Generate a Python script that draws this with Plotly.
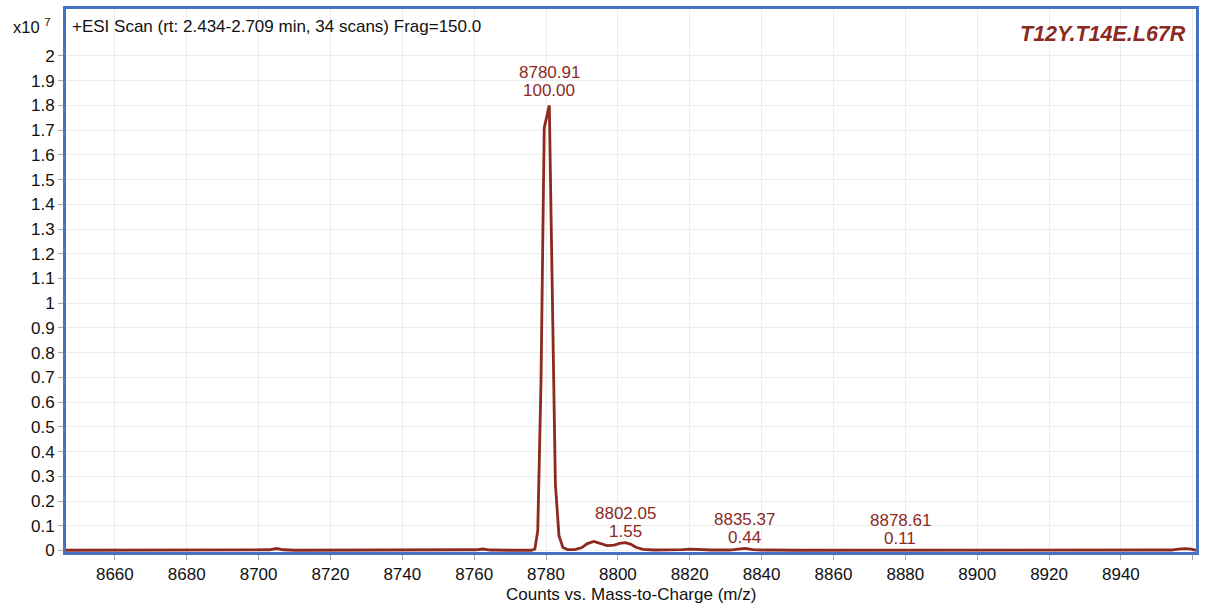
import plotly.graph_objects as go

# ---- data (intensity in units of 1e7 counts) ----
mz = [8646.4, 8660, 8680, 8686, 8689, 8692, 8700, 8703, 8705, 8707, 8710,
      8719, 8722.5, 8726, 8740, 8758, 8760.5, 8762.4, 8764.5, 8770, 8775.9,
      8776.9, 8777.7, 8778.6, 8779.5, 8780.91, 8782.6, 8783.6, 8784.7, 8786,
      8788, 8790, 8791.5, 8793.3, 8795, 8797, 8799, 8800.5, 8802.05, 8803.5,
      8805, 8807, 8810, 8815, 8818, 8820, 8822, 8826, 8831, 8833.5, 8835.37,
      8837.5, 8840, 8850, 8875, 8878.61, 8882, 8892, 8895, 8898, 8920, 8950,
      8954, 8956, 8958, 8959.5, 8960.9]
counts = [0.001, 0.001, 0.001, 0.001, 0.003, 0.001, 0.001, 0.003, 0.008, 0.003, 0.001,
          0.001, 0.003, 0.001, 0.001, 0.001, 0.003, 0.006, 0.002, 0.001, 0.001,
          0.006, 0.08, 0.68, 1.71, 1.80, 0.27, 0.06, 0.012, 0.004,
          0.004, 0.012, 0.028, 0.037, 0.03, 0.02, 0.022, 0.029, 0.032, 0.026,
          0.013, 0.005, 0.002, 0.002, 0.004, 0.006, 0.004, 0.002, 0.002, 0.006, 0.009,
          0.004, 0.002, 0.001, 0.001, 0.003, 0.001, 0.001, 0.003, 0.001, 0.001, 0.001,
          0.002, 0.006, 0.008, 0.006, 0.001]

peak_mz = [8780.91, 8802.05, 8835.37, 8878.61]
peak_counts = [1.80, 0.032, 0.009, 0.003]
peak_labels = ["8780.91", "8802.05", "8835.37", "8878.61"]
peak_rel = ["100.00", "1.55", "0.44", "0.11"]

x_ticks = [8660, 8680, 8700, 8720, 8740, 8760, 8780, 8800, 8820, 8840,
           8860, 8880, 8900, 8920, 8940, 8960]
x_tick_labels = ["8660", "8680", "8700", "8720", "8740", "8760", "8780", "8800",
                 "8820", "8840", "8860", "8880", "8900", "8920", "8940", ""]
y_ticks = [0, 0.1, 0.2, 0.3, 0.4, 0.5, 0.6, 0.7, 0.8, 0.9, 1.0,
           1.1, 1.2, 1.3, 1.4, 1.5, 1.6, 1.7, 1.8, 1.9, 2.0]
y_tick_labels = ["0", "0.1", "0.2", "0.3", "0.4", "0.5", "0.6", "0.7", "0.8", "0.9", "1",
                 "1.1", "1.2", "1.3", "1.4", "1.5", "1.6", "1.7", "1.8", "1.9", "2"]

scan_title = "+ESI Scan (rt: 2.434-2.709 min, 34 scans) Frag=150.0"
sample_name = "T12Y.T14E.L67R"
x_title = "Counts vs. Mass-to-Charge (m/z)"

RED = "#8C2A1F"
BLUE = "#4472C4"
FONT = "Liberation Sans, Arial, sans-serif"
FS = 17

fig = go.Figure()
fig.add_trace(go.Scatter(x=mz, y=counts, mode="lines",
                         line=dict(color=RED, width=2.8), hoverinfo="skip",
                         showlegend=False))

for i, (px, py) in enumerate(zip(peak_mz, peak_counts)):
    base = 15 if i == 0 else 11
    fig.add_annotation(x=px, y=py, xref="x", yref="y", text=peak_rel[i],
                       showarrow=False, yanchor="middle", xanchor="center",
                       yshift=base, font=dict(family=FONT, size=FS, color=RED))
    fig.add_annotation(x=px, y=py, xref="x", yref="y", text=peak_labels[i],
                       showarrow=False, yanchor="middle", xanchor="center",
                       yshift=base + 18, font=dict(family=FONT, size=FS, color=RED))

fig.add_annotation(xref="paper", yref="paper", x=-0.049, y=0.968,
                   xanchor="left", yanchor="middle", showarrow=False,
                   text="x10 <sup>7</sup>", font=dict(family=FONT, size=16.5, color="#111"))
fig.add_annotation(xref="paper", yref="paper", x=0.0035, y=0.967,
                   xanchor="left", yanchor="middle", showarrow=False,
                   text=scan_title, font=dict(family=FONT, size=17, color="#111"))
fig.add_annotation(xref="paper", yref="paper", x=0.993, y=0.954,
                   xanchor="right", yanchor="middle", showarrow=False,
                   text="<b><i>" + sample_name + "</i></b>",
                   font=dict(family=FONT, size=21.5, color=RED))
fig.add_annotation(xref="paper", yref="paper", x=0.5, y=-0.079,
                   xanchor="center", yanchor="middle", showarrow=False,
                   text=x_title, font=dict(family=FONT, size=FS, color="#111"))

fig.update_layout(
    width=1207, height=606,
    margin=dict(l=66, r=11, t=6, b=54),
    paper_bgcolor="white", plot_bgcolor="white",
    font=dict(family=FONT, size=FS, color="#111"),
    xaxis=dict(range=[8646.4, 8960.9], tickvals=x_ticks, ticktext=x_tick_labels,
               showgrid=True, gridcolor="#ececec", gridwidth=1, zeroline=False,
               ticks="outside", ticklen=5, tickcolor="#aaa",
               showline=True, linecolor=BLUE, linewidth=3, mirror=True,
               tickfont=dict(family=FONT, size=FS, color="#111")),
    yaxis=dict(range=[-0.006, 2.19], tickvals=y_ticks, ticktext=y_tick_labels,
               showgrid=True, gridcolor="#ececec", gridwidth=1, zeroline=False,
               ticks="outside", ticklen=5, tickcolor="#aaa",
               showline=True, linecolor=BLUE, linewidth=3, mirror=True,
               tickfont=dict(family=FONT, size=FS, color="#111")),
)

fig.write_html("out.html", config={"displayModeBar": False},
               post_script="document.body.style.margin='0';"
                           "document.body.style.overflow='hidden';")
